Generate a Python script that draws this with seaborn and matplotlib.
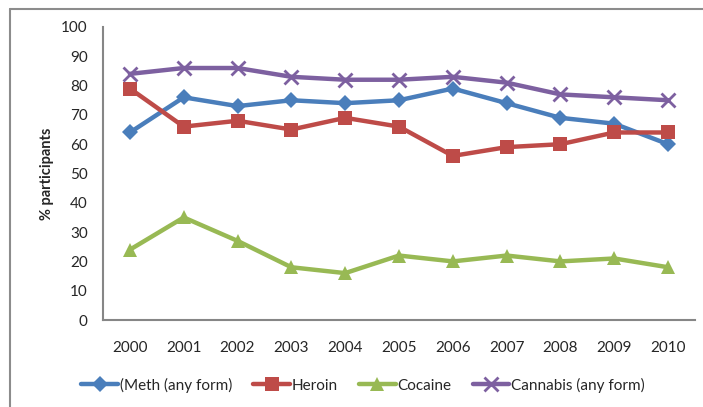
import matplotlib
matplotlib.use("Agg")
import matplotlib.pyplot as plt
from matplotlib.lines import Line2D
import seaborn as sns
import pandas as pd

years = [2000, 2001, 2002, 2003, 2004, 2005, 2006, 2007, 2008, 2009, 2010]
meth = [64, 76, 73, 75, 74, 75, 79, 74, 69, 67, 60]
heroin = [79, 66, 68, 65, 69, 66, 56, 59, 60, 64, 64]
cocaine = [24, 35, 27, 18, 16, 22, 20, 22, 20, 21, 18]
cannabis = [84, 86, 86, 83, 82, 82, 83, 81, 77, 76, 75]

series_names = ["(Meth (any form)", "Heroin", "Cocaine", "Cannabis (any form)"]
series_values = [meth, heroin, cocaine, cannabis]
colors = ["#4A7EBB", "#BE4B48", "#98B954", "#7D60A0"]
markers = ["D", "s", "^", "x"]

sns.set_style("white")
plt.rcParams["font.family"] = ["Lato", "DejaVu Sans"]

fig = plt.figure(figsize=(7.03, 4.07), dpi=100)
ax = fig.add_axes([103 / 703, (407 - 320) / 407, (695 - 103) / 703, (320 - 27) / 407])

handles = []
for name, vals, c, m in zip(series_names, series_values, colors, markers):
    df = pd.DataFrame({"Year": years, "Value": vals})
    if m == "x":
        style = dict(markersize=10, markeredgewidth=2, markeredgecolor=c)
    elif m == "D":
        style = dict(markersize=8.5, markeredgewidth=0)
    else:
        style = dict(markersize=9.5, markeredgewidth=0)
    sns.lineplot(data=df, x="Year", y="Value", color=c, marker=m,
                 linewidth=3.2, ax=ax, **style)
    handles.append(Line2D([0], [0], color=c, marker=m, linewidth=3.2,
                          label=name, **style))

ax.set_xlim(1999.5, 2010.5)
ax.set_ylim(0, 100)
ax.set_xticks(years)
ax.set_xticklabels([str(y) for y in years], fontsize=11)
ax.set_yticks(range(0, 101, 10))
ax.set_yticklabels([str(v) for v in range(0, 101, 10)], fontsize=11)
ax.tick_params(axis="x", length=0, pad=15)
ax.tick_params(axis="y", length=0, pad=11)
ax.set_xlabel("")
ax.set_ylabel("% participants", fontsize=10.5, fontweight="bold", labelpad=5)

for side in ["top", "right"]:
    ax.spines[side].set_visible(False)
for side in ["left", "bottom"]:
    ax.spines[side].set_color("#868686")
    ax.spines[side].set_linewidth(1.5)

fig.legend(handles=handles, loc="center", bbox_to_anchor=(363 / 703, 1 - 385 / 407),
           ncol=4, frameon=False, fontsize=11, handlelength=2.4,
           handletextpad=0.1, columnspacing=1.4)

# outer chart frame
frame_color = "#8c8c8c"
fig.add_artist(Line2D([10 / 703, 10 / 703], [0, 1 - 9 / 407],
                      transform=fig.transFigure, color=frame_color, linewidth=1.5))
fig.add_artist(Line2D([10 / 703, 1], [1 - 9 / 407, 1 - 9 / 407],
                      transform=fig.transFigure, color=frame_color, linewidth=1.5))

fig.savefig("out.png", dpi=100)
